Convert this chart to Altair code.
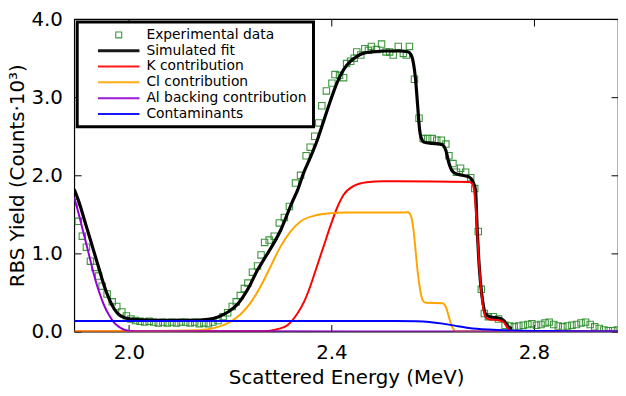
import altair as alt
import pandas as pd

SERIES = ["Experimental data", "Simulated fit", "K contribution",
          "Cl contribution", "Al backing contribution", "Contaminants"]
COLORS = ["#2a8c2a", "#000000", "#ff0000", "#ffa500", "#9400d3", "#0000ff"]
WIDTHS = [1.1, 3.2, 2, 2, 2, 2]
SHAPES = ["square", "M-7,0L7,0", "M-7,0L7,0", "M-7,0L7,0", "M-7,0L7,0", "M-7,0L7,0"]

X_TICKS = [2.0, 2.4, 2.8]
Y_TICKS = [0, 1, 2, 3, 4]

EXP_E = [1.893, 1.900, 1.908, 1.916, 1.924, 1.933, 1.940, 1.947, 1.957, 1.967,
         1.976, 1.986, 1.995, 2.004, 2.013, 2.022, 2.031, 2.040, 2.049, 2.058,
         2.067, 2.076, 2.085, 2.094, 2.103, 2.112, 2.121, 2.130, 2.139, 2.148,
         2.157, 2.166, 2.176, 2.186, 2.195, 2.204, 2.212, 2.220, 2.228, 2.235,
         2.244, 2.254, 2.261, 2.268, 2.277, 2.287, 2.297, 2.307, 2.317, 2.329,
         2.339, 2.350, 2.358, 2.367, 2.375, 2.381, 2.390, 2.401, 2.407, 2.416,
         2.424, 2.430, 2.438, 2.445, 2.450, 2.458, 2.466, 2.473, 2.479, 2.489,
         2.499, 2.508, 2.515, 2.522, 2.532, 2.542, 2.548, 2.554, 2.564, 2.573,
         2.581, 2.590, 2.599, 2.608, 2.617, 2.626, 2.632, 2.640, 2.647, 2.655,
         2.665, 2.675, 2.683, 2.690, 2.696, 2.702, 2.710, 2.720, 2.730, 2.743,
         2.752, 2.761, 2.770, 2.779, 2.788, 2.796, 2.805, 2.814, 2.822, 2.830,
         2.839, 2.848, 2.857, 2.866, 2.875, 2.884, 2.893, 2.902, 2.911, 2.920,
         2.929, 2.938, 2.947, 2.956, 2.965]
EXP_Y = [1.65, 1.41, 1.22, 1.08, 0.90, 0.82, 0.71, 0.58, 0.48, 0.38,
         0.32, 0.25, 0.20, 0.16, 0.14, 0.13, 0.12, 0.13, 0.12, 0.11,
         0.12, 0.11, 0.12, 0.11, 0.12, 0.12, 0.11, 0.12, 0.10, 0.11,
         0.10, 0.12, 0.14, 0.19, 0.24, 0.32, 0.38, 0.46, 0.55, 0.62,
         0.76, 0.84, 0.98, 1.14, 1.17, 1.22, 1.39, 1.46, 1.60, 1.90,
         2.00, 2.25, 2.36, 2.50, 2.67, 2.89, 3.08, 3.18, 3.29, 3.28,
         3.25, 3.43, 3.46, 3.50, 3.58, 3.54, 3.62, 3.60, 3.65, 3.61,
         3.68, 3.58, 3.58, 3.54, 3.65, 3.56, 3.54, 3.65, 3.23, 2.73,
         2.47, 2.47, 2.47, 2.45, 2.45, 2.40, 2.25, 2.15, 2.04, 2.09,
         2.04, 1.97, 1.83, 1.28, 0.54, 0.23, 0.19, 0.19, 0.16, 0.08,
         0.07, 0.06, 0.07, 0.08, 0.09, 0.10, 0.08, 0.09, 0.11, 0.12,
         0.09, 0.07, 0.06, 0.07, 0.08, 0.09, 0.11, 0.12, 0.09, 0.06,
         0.04, 0.02, 0.01, 0.01, 0.02]

FIT_E = [1.892, 1.9022, 1.912, 1.9218, 1.9315, 1.9413, 1.9511, 1.9609, 1.9707, 1.9804,
         1.9935, 2.0131, 2.0587, 2.1239, 2.1565, 2.176, 2.1956, 2.2152, 2.2347, 2.2543,
         2.2673, 2.2999, 2.3227, 2.3325, 2.3456, 2.3586, 2.3716, 2.3847, 2.3977, 2.4108,
         2.4238, 2.4369, 2.4499, 2.4630, 2.4825, 2.5086, 2.5346, 2.5509, 2.5575, 2.5620,
         2.5659, 2.5686, 2.5711, 2.5737, 2.5770, 2.5835, 2.5999, 2.6195, 2.626, 2.6324,
         2.6377, 2.6455, 2.6586, 2.6716, 2.6795, 2.6846, 2.6879, 2.691, 2.6944, 2.699,
         2.7042, 2.714, 2.7302, 2.740, 2.7498, 2.7563]
FIT_Y = [1.82, 1.642, 1.43, 1.219, 1.009, 0.797, 0.586, 0.418, 0.291, 0.215,
         0.173, 0.152, 0.143, 0.143, 0.156, 0.186, 0.249, 0.354, 0.54, 0.79,
         0.93, 1.30, 1.66, 1.80, 2.04, 2.232, 2.443, 2.696, 2.949, 3.181,
         3.350, 3.456, 3.519, 3.561, 3.582, 3.591, 3.591, 3.582, 3.540, 3.434,
         3.244, 3.034, 2.823, 2.611, 2.485, 2.422, 2.409, 2.392, 2.316, 2.148,
         2.063, 2.021, 2.0, 1.979, 1.915, 1.81, 1.304, 0.924, 0.629, 0.376,
         0.228, 0.186, 0.173, 0.143, 0.059, 0.038]

K_E = [1.892, 2.2673, 2.2934, 2.313, 2.3325, 2.3456, 2.3586, 2.3716, 2.3847, 2.3977,
       2.4108, 2.4238, 2.4434, 2.4694, 2.5021, 2.5281, 2.6716, 2.678, 2.6825, 2.686,
       2.6899, 2.6944, 2.699, 2.7042, 2.7107, 2.7302, 2.740, 2.7466, 2.753, 2.763, 2.966]
K_Y = [0.0, 0.004, 0.03, 0.08, 0.228, 0.376, 0.586, 0.839, 1.093, 1.346,
       1.578, 1.747, 1.861, 1.911, 1.924, 1.924, 1.915, 1.895, 1.768, 1.472,
       1.05, 0.629, 0.333, 0.186, 0.156, 0.143, 0.122, 0.059, 0.017, 0.004, 0.0]

CL_E = [1.892, 2.137, 2.1696, 2.202, 2.2216, 2.2412, 2.2608, 2.2803, 2.2999, 2.3195,
        2.339, 2.3651, 2.3977, 2.4303, 2.5281, 2.551, 2.5575, 2.562, 2.566, 2.5705,
        2.575, 2.5803, 2.5868, 2.6195, 2.626, 2.6312, 2.6357, 2.6402, 2.6455, 2.966]
CL_Y = [0.0, 0.017, 0.046, 0.131, 0.228, 0.376, 0.586, 0.839, 1.093, 1.283,
        1.409, 1.481, 1.515, 1.523, 1.523, 1.527, 1.472, 1.304, 1.05, 0.755,
        0.544, 0.397, 0.367, 0.363, 0.312, 0.207, 0.101, 0.038, 0.004, 0.0]

AL_E = [1.892, 1.9022, 1.912, 1.9218, 1.9315, 1.9413, 1.9511, 1.9609, 1.9707, 1.9804,
        1.9935, 2.0131, 2.966]
AL_Y = [1.72, 1.472, 1.219, 0.966, 0.713, 0.502, 0.333, 0.207, 0.114, 0.059,
        0.017, 0.004, 0.0]

CONT_E = [1.892, 2.3, 2.528, 2.567, 2.593, 2.6195, 2.6455, 2.6716, 2.7107, 2.7563, 2.854, 2.966]
CONT_Y = [0.135, 0.135, 0.135, 0.131, 0.122, 0.101, 0.072, 0.046, 0.025, 0.013, 0.004, 0.0]

frames = []
for name, es, ys in [(SERIES[0], EXP_E, EXP_Y), (SERIES[1], FIT_E, FIT_Y),
                     (SERIES[2], K_E, K_Y), (SERIES[3], CL_E, CL_Y),
                     (SERIES[4], AL_E, AL_Y), (SERIES[5], CONT_E, CONT_Y)]:
    frames.append(pd.DataFrame({"energy": es, "yld": ys, "series": name}))
df = pd.concat(frames, ignore_index=True)

FONT = "DejaVu Sans"
xscale = alt.Scale(domain=[1.892, 2.966], nice=False, zero=False)
yscale = alt.Scale(domain=[0, 4], nice=False, zero=False)

x_axis = alt.Axis(values=X_TICKS, format=".1f", title="Scattered Energy (MeV)",
                  offset=-7, tickSize=7, domain=False, grid=False, labelPadding=11,
                  titlePadding=6, labelFontSize=20, titleFontSize=20, labelFont=FONT,
                  titleFont=FONT, labelColor="black", titleColor="black",
                  tickColor="black", tickWidth=1, titleFontWeight="normal",
                  labelFlush=False)
y_axis = alt.Axis(values=Y_TICKS, format=".1f", title="RBS Yield (Counts·10³)",
                  offset=-7, tickSize=7, domain=False, grid=False, labelPadding=12,
                  titlePadding=4, labelFontSize=20, titleFontSize=20, labelFont=FONT,
                  titleFont=FONT, labelColor="black", titleColor="black",
                  tickColor="black", tickWidth=1, titleFontWeight="normal")
x_top = alt.Axis(values=X_TICKS, orient="top", offset=-7, tickSize=7, domain=False,
                 grid=False, labels=False, title=None, tickColor="black", tickWidth=1)
y_right = alt.Axis(values=Y_TICKS, orient="right", offset=-7, tickSize=7, domain=False,
                   grid=False, labels=False, title=None, tickColor="black", tickWidth=1)

leg = alt.Legend(title=None)
color_enc = alt.Color("series:N", scale=alt.Scale(domain=SERIES, range=COLORS), legend=leg)
shape_enc = alt.Shape("series:N", scale=alt.Scale(domain=SERIES, range=SHAPES), legend=leg)
sw_enc = alt.StrokeWidth("series:N",
                         scale=alt.Scale(type="ordinal", domain=SERIES, range=WIDTHS),
                         legend=leg)

base = alt.Chart(df)

points = base.transform_filter(alt.datum.series == SERIES[0]).mark_point(
    filled=False, size=42, clip=True, opacity=0.9
).encode(
    x=alt.X("energy:Q", scale=xscale, axis=x_axis),
    y=alt.Y("yld:Q", scale=yscale, axis=y_axis),
    color=color_enc, shape=shape_enc, strokeWidth=sw_enc,
)

layers = [points]
for s in SERIES[1:]:
    layers.append(
        base.transform_filter(alt.datum.series == s).mark_line(
            interpolate="monotone", clip=True
        ).encode(
            x=alt.X("energy:Q", scale=xscale, axis=None),
            y=alt.Y("yld:Q", scale=yscale, axis=None),
            color=color_enc, strokeWidth=sw_enc,
            order=alt.Order("energy:Q"),
        )
    )

mirror = base.transform_filter(alt.datum.series == SERIES[5]).mark_point(
    opacity=0
).encode(
    x=alt.X("energy:Q", scale=xscale, axis=x_top),
    y=alt.Y("yld:Q", scale=yscale, axis=y_right),
)
layers.append(mirror)

chart = alt.layer(*layers).resolve_axis(x="independent", y="independent").properties(
    width=550, height=316,
    autosize=alt.AutoSizeParams(type="none"),
    padding={"left": 67, "top": 9, "right": 0, "bottom": 60},
).configure_view(
    stroke="black", strokeWidth=1.2
).configure_legend(
    orient="none", legendX=3, legendY=3, labelFontSize=14, labelFont=FONT,
    labelColor="black", symbolSize=36, symbolOffset=29, labelOffset=21,
    labelLimit=400, rowPadding=2, padding=6, strokeColor="black", strokeWidth=3,
    fillColor="white", cornerRadius=0
)

chart.save("out.html", embed_options={"renderer": "svg", "actions": False})
